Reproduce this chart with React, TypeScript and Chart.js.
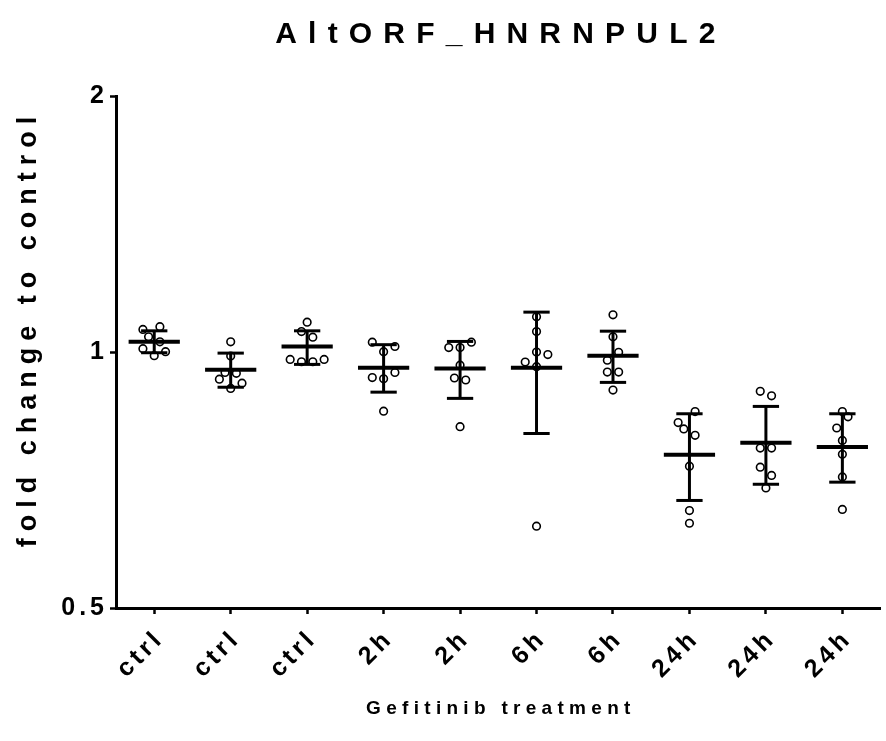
import React, { useEffect, useRef } from "react";
import { Chart, registerables } from "chart.js";

Chart.register(...registerables);

// ---- data ----
const categories = ["ctrl", "ctrl", "ctrl", "2h", "2h", "6h", "6h", "24h", "24h", "24h"];
const yTickValues = [0.5, 1, 2];
const yTickLabels = ["0.5", "1", "2"];

const ctrl1 = [1.063, 1.071, 1.042, 1.028, 1.009, 0.99, 1.001];
const ctrl2 = [1.028, 0.989, 0.946, 0.944, 0.929, 0.919, 0.906];
const ctrl3 = [1.084, 1.057, 1.041, 0.98, 0.974, 0.974, 0.98];
const h2a = [1.027, 1.015, 1.001, 0.946, 0.933, 0.93, 0.852];
const h2b = [1.012, 1.012, 1.027, 0.965, 0.932, 0.927, 0.817];
const h6a = [1.1, 1.057, 1.0, 0.993, 0.973, 0.961, 0.624];
const h6b = [1.106, 1.042, 0.999, 0.978, 0.947, 0.947, 0.902];
const h24a = [0.851, 0.826, 0.812, 0.798, 0.734, 0.651, 0.629];
const h24b = [0.899, 0.888, 0.771, 0.771, 0.732, 0.716, 0.692];
const h24c = [0.851, 0.839, 0.814, 0.787, 0.758, 0.713, 0.653];
const replicates = [ctrl1, ctrl2, ctrl3, h2a, h2b, h6a, h6b, h24a, h24b, h24c];

// horizontal scatter of replicates (in jitter steps), as seen in the reference
const jitter = [
  [-2, 1, -1, 1, -2, 0, 2],
  [0, 0, -1, 1, -2, 2, 0],
  [0, -1, 1, -3, -1, 1, 3],
  [-2, 2, 0, 2, -2, 0, 0],
  [-2, 0, 2, 0, -1, 1, 0],
  [0, 0, 0, 2, -2, 0, 0],
  [0, 0, 1, -1, -1, 1, 0],
  [1, -2, -1, 1, 0, 0, 0],
  [-1, 1, -1, 1, -1, 1, 0],
  [0, 1, -1, 0, 0, 0, 0],
];

const means = [1.028, 0.953, 1.015, 0.958, 0.956, 0.958, 0.99, 0.757, 0.782, 0.773];
const errHigh = [1.059, 0.997, 1.059, 1.02, 1.029, 1.114, 1.058, 0.846, 0.863, 0.846];
const errLow = [0.998, 0.909, 0.967, 0.897, 0.882, 0.802, 0.921, 0.669, 0.699, 0.703];

const TITLE = "AltORF_HNRNPUL2";
const X_TITLE = "Gefitinib treatment";
const Y_TITLE = "fold change to control";

// ---- styling ----
const FONT = '"Liberation Sans", Arial, Helvetica, sans-serif';
const JITTER_STEP = 0.074;
const MEAN_HALF = 0.335;
const CAP_HALF = 0.172;

const spacingPlugin = {
  id: "tickSpacing",
  beforeDraw(chart: any) {
    (chart.ctx as any).letterSpacing = "4px";
  },
};

const summaryPlugin = {
  id: "meanSd",
  afterDatasetsDraw(chart: any) {
    const { ctx } = chart;
    const x = chart.scales.x;
    const y = chart.scales.y;
    const seg = (x1: number, y1: number, x2: number, y2: number) => {
      ctx.beginPath();
      ctx.moveTo(x1, y1);
      ctx.lineTo(x2, y2);
      ctx.stroke();
    };
    ctx.save();
    ctx.strokeStyle = "#000";
    ctx.lineCap = "butt";
    means.forEach((m, i) => {
      const c = i + 1;
      const xc = x.getPixelForValue(c);
      const yh = y.getPixelForValue(errHigh[i]);
      const yl = y.getPixelForValue(errLow[i]);
      const xcl = x.getPixelForValue(c - CAP_HALF);
      const xcr = x.getPixelForValue(c + CAP_HALF);
      ctx.lineWidth = 3;
      seg(xc, yh, xc, yl);
      seg(xcl, yh, xcr, yh);
      seg(xcl, yl, xcr, yl);
      ctx.lineWidth = 4;
      const ym = y.getPixelForValue(m);
      seg(x.getPixelForValue(c - MEAN_HALF), ym, x.getPixelForValue(c + MEAN_HALF), ym);
    });
    ctx.restore();
  },
};

const titlesPlugin = {
  id: "titles",
  afterDraw(chart: any) {
    const { ctx, chartArea: a } = chart;
    const cx = (a.left + a.right) / 2;
    const cy = (a.top + a.bottom) / 2;
    ctx.save();
    ctx.fillStyle = "#000";
    ctx.textAlign = "center";
    ctx.textBaseline = "alphabetic";

    ctx.font = `bold 30px ${FONT}`;
    ctx.letterSpacing = "11.2px";
    ctx.fillText(TITLE, cx - 3 + 5.6, a.top - 53);

    ctx.font = `bold 19px ${FONT}`;
    ctx.letterSpacing = "5.3px";
    ctx.fillText(X_TITLE, cx + 2.6, a.bottom + 106);

    ctx.save();
    ctx.translate(a.left - 80, cy - 20);
    ctx.rotate(-Math.PI / 2);
    ctx.font = `bold 27px ${FONT}`;
    ctx.letterSpacing = "7px";
    ctx.fillText(Y_TITLE, 3.5, 0);
    ctx.restore();

    ctx.restore();
  },
};

export default function App() {
  const canvasRef = useRef<HTMLCanvasElement | null>(null);

  useEffect(() => {
    document.body.style.margin = "0";
    const canvas = canvasRef.current;
    if (!canvas) return;

    const points = replicates.flatMap((vals, gi) =>
      vals.map((v, pi) => ({ x: gi + 1 + jitter[gi][pi] * JITTER_STEP, y: v }))
    );

    const tickFont = { family: FONT, size: 25, weight: "bold" as const };

    const chart = new Chart(canvas, {
      type: "scatter",
      data: {
        datasets: [
          {
            data: points,
            pointStyle: "circle",
            pointRadius: 3.8,
            pointHoverRadius: 3.8,
            pointBorderWidth: 1.6,
            pointBorderColor: "#000",
            pointBackgroundColor: "rgba(255,255,255,0)",
          },
        ],
      },
      options: {
        animation: false,
        responsive: false,
        devicePixelRatio: 1,
        events: [],
        layout: { padding: { left: 0, top: 96, right: 2, bottom: 0 } },
        plugins: {
          legend: { display: false },
          tooltip: { enabled: false },
          title: { display: false },
        },
        scales: {
          x: {
            type: "linear",
            min: 0.5,
            max: categories.length + 0.5,
            afterBuildTicks: (s: any) => {
              s.ticks = categories.map((_, i) => ({ value: i + 1 }));
            },
            afterFit: (s: any) => {
              s.height = 133;
            },
            grid: {
              drawOnChartArea: false,
              drawTicks: true,
              tickLength: 6,
              tickWidth: 2.5,
              tickColor: "#000",
              color: "#000",
            },
            border: { display: true, color: "#000", width: 3 },
            ticks: {
              autoSkip: false,
              maxRotation: 45,
              minRotation: 45,
              padding: 10,
              labelOffset: 6,
              color: "#000",
              font: tickFont,
              callback: (v: any) => categories[Math.round(Number(v)) - 1] ?? "",
            },
          },
          y: {
            type: "logarithmic",
            min: 0.5,
            max: 2,
            afterBuildTicks: (s: any) => {
              s.ticks = yTickValues.map((v) => ({ value: v }));
            },
            afterFit: (s: any) => {
              s.width = 116;
            },
            grid: {
              drawOnChartArea: false,
              drawTicks: true,
              tickLength: 6,
              tickWidth: 2.5,
              tickColor: "#000",
              color: "#000",
            },
            border: { display: true, color: "#000", width: 3 },
            ticks: {
              padding: 2,
              color: "#000",
              font: tickFont,
              callback: (v: any) => {
                const i = yTickValues.indexOf(Number(v));
                return i >= 0 ? yTickLabels[i] : "";
              },
            },
          },
        },
      },
      plugins: [spacingPlugin, summaryPlugin, titlesPlugin],
    });

    return () => chart.destroy();
  }, []);

  return (
    <div style={{ width: 886, height: 741 }}>
      <canvas ref={canvasRef} width={886} height={741} style={{ display: "block" }} />
    </div>
  );
}
